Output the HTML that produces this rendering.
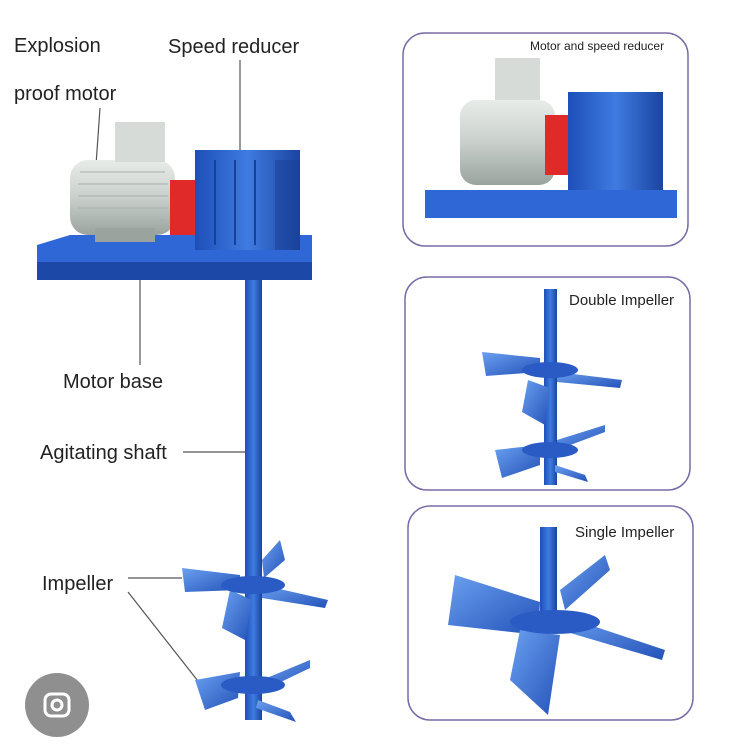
<!DOCTYPE html>
<html><head><meta charset="utf-8"><style>
body{margin:0;background:#fff;width:750px;height:750px;overflow:hidden}
svg{display:block}
text{font-family:"Liberation Sans",sans-serif;fill:#222}
</style></head><body>
<svg width="750" height="750" viewBox="0 0 750 750">
<defs>
<linearGradient id="bl" x1="0" y1="0" x2="1" y2="0"><stop offset="0" stop-color="#1d4fb8"/><stop offset=".5" stop-color="#3f7be0"/><stop offset="1" stop-color="#1a44a0"/></linearGradient>
<linearGradient id="gr" x1="0" y1="0" x2="0" y2="1"><stop offset="0" stop-color="#e8ece8"/><stop offset=".5" stop-color="#c9d0cc"/><stop offset="1" stop-color="#9aa39e"/></linearGradient>
<linearGradient id="bld" x1="0" y1="0" x2="1" y2="1"><stop offset="0" stop-color="#6aa0f0"/><stop offset="1" stop-color="#2452b8"/></linearGradient>
</defs>
<rect width="750" height="750" fill="#fff"/>
<text x="14" y="52" font-size="20">Explosion</text>
<text x="14" y="100" font-size="20">proof motor</text>
<text x="168" y="53" font-size="20">Speed reducer</text>
<text x="63" y="388" font-size="20">Motor base</text>
<text x="40" y="459" font-size="20">Agitating shaft</text>
<text x="42" y="590" font-size="20">Impeller</text>
<g stroke="#555" stroke-width="1.2" fill="none">
<line x1="100" y1="108" x2="96" y2="165"/>
<line x1="240" y1="60" x2="240" y2="150"/>
<line x1="140" y1="270" x2="140" y2="365"/>
<line x1="183" y1="452" x2="248" y2="452"/>
<line x1="128" y1="578" x2="182" y2="578"/>
<line x1="128" y1="592" x2="205" y2="690"/>
</g>
<polygon points="37,245 70,235 312,235 312,262 37,262" fill="#2f68d6"/>
<rect x="37" y="262" width="275" height="18" fill="#1c48a8"/>
<rect x="70" y="160" width="105" height="75" rx="18" fill="url(#gr)"/>
<g stroke="#a9b1ac" stroke-width="1"><line x1="80" y1="172" x2="165" y2="172"/><line x1="78" y1="184" x2="168" y2="184"/><line x1="78" y1="196" x2="168" y2="196"/><line x1="78" y1="208" x2="168" y2="208"/><line x1="80" y1="220" x2="165" y2="220"/></g>
<rect x="115" y="122" width="50" height="40" fill="#d6dbd7"/>
<rect x="95" y="228" width="60" height="14" fill="#9aa39e"/>
<rect x="170" y="180" width="30" height="55" fill="#e02a2a"/>
<rect x="195" y="150" width="105" height="100" fill="url(#bl)"/>
<g stroke="#1a3f96" stroke-width="2"><line x1="215" y1="160" x2="215" y2="245"/><line x1="235" y1="160" x2="235" y2="245"/><line x1="255" y1="160" x2="255" y2="245"/></g>
<rect x="275" y="160" width="25" height="90" fill="#1a3f96" opacity=".5"/>
<rect x="245" y="280" width="17" height="440" fill="url(#bl)"/>
<g fill="url(#bld)">
<polygon points="182,568 240,575 240,590 185,592"/>
<polygon points="262,585 328,600 325,608 262,598"/>
<polygon points="230,590 252,600 245,640 222,628"/>
<polygon points="262,560 280,540 285,560 264,578"/>
<polygon points="195,680 240,672 238,698 205,710"/>
<polygon points="262,680 310,660 310,668 264,690"/>
<polygon points="258,700 290,712 296,722 256,708"/>
</g>
<ellipse cx="253" cy="585" rx="32" ry="9" fill="#2a5bc5"/>
<ellipse cx="253" cy="685" rx="32" ry="9" fill="#2a5bc5"/>
<g fill="none" stroke="#7a6aa6" stroke-width="1.5">
<rect x="403" y="33" width="285" height="213" rx="22"/>
<rect x="405" y="277" width="285" height="213" rx="22"/>
<rect x="408" y="506" width="285" height="214" rx="22"/>
</g>
<text x="530" y="50" font-size="12">Motor and speed reducer</text>
<text x="569" y="305" font-size="15">Double Impeller</text>
<text x="575" y="537" font-size="15">Single Impeller</text>
<rect x="425" y="190" width="252" height="28" fill="#2f68d6"/>
<rect x="460" y="100" width="95" height="85" rx="16" fill="url(#gr)"/>
<rect x="495" y="58" width="45" height="42" fill="#d6dbd7"/>
<rect x="545" y="115" width="25" height="60" fill="#e02a2a"/>
<rect x="568" y="92" width="95" height="98" fill="url(#bl)"/>
<rect x="544" y="289" width="13" height="196" fill="url(#bl)"/>
<g fill="url(#bld)">
<polygon points="482,352 540,358 540,372 486,376"/>
<polygon points="557,372 622,380 620,388 557,382"/>
<polygon points="528,380 550,388 545,425 522,412"/>
<polygon points="495,450 540,445 540,465 502,478"/>
<polygon points="557,440 605,425 605,432 557,450"/>
<polygon points="555,465 585,475 588,482 555,472"/>
</g>
<ellipse cx="550" cy="370" rx="28" ry="8" fill="#2a5bc5"/>
<ellipse cx="550" cy="450" rx="28" ry="8" fill="#2a5bc5"/>
<rect x="540" y="527" width="17" height="95" fill="url(#bl)"/>
<g fill="url(#bld)">
<polygon points="455,575 540,602 538,635 448,625"/>
<polygon points="560,615 665,650 662,660 560,630"/>
<polygon points="520,630 560,635 548,715 510,680"/>
<polygon points="560,590 605,555 610,570 565,610"/>
</g>
<ellipse cx="555" cy="622" rx="45" ry="12" fill="#2a5bc5"/>
<circle cx="57" cy="705" r="32" fill="#7b7b7b" opacity=".85"/>
<rect x="45" y="694" width="24" height="22" rx="6" fill="none" stroke="#fff" stroke-width="3"/>
<circle cx="57" cy="705" r="5" fill="none" stroke="#fff" stroke-width="3"/>
</svg>
</body></html>
